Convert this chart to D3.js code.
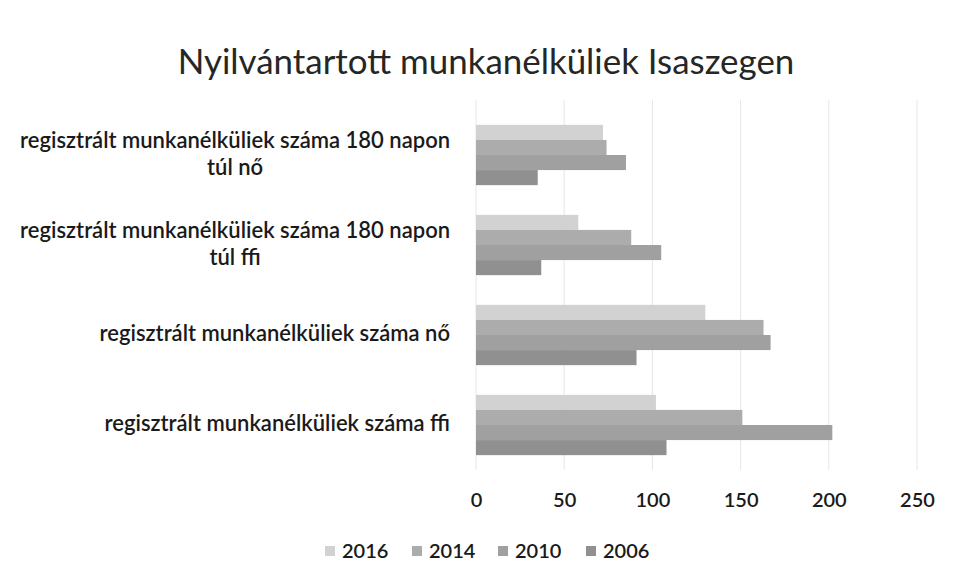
<!DOCTYPE html>
<html>
<head>
<meta charset="utf-8">
<script src="https://cdn.jsdelivr.net/npm/d3@7"></script>
<style>
  body { margin: 0; background: #fff; }
  svg text { font-family: Lato, "Open Sans", sans-serif; fill: #1a1a1a; }
</style>
</head>
<body>
<div id="chart"></div>
<script>
// categories top to bottom, each label split into its lines
var categories = [
    ["regisztrált munkanélküliek száma 180 napon", "túl nő"],
    ["regisztrált munkanélküliek száma 180 napon", "túl ffi"],
    ["regisztrált munkanélküliek száma nő"],
    ["regisztrált munkanélküliek száma ffi"]
];
var years = ["2016", "2014", "2010", "2006"];
var v2016 = [72, 58, 130, 102];
var v2014 = [74, 88, 163, 151];
var v2010 = [85, 105, 167, 202];
var v2006 = [35, 37, 91, 108];
var ticks = [0, 50, 100, 150, 200, 250];
var colors = ["#d2d2d2", "#acacac", "#a0a0a0", "#909090"];

var series = [v2016, v2014, v2010, v2006];

var width = 953, height = 585;
var plot = {left: 476, right: 917, top: 110, bottom: 470};

var svg = d3.select("#chart").append("svg")
    .attr("width", width)
    .attr("height", height);

svg.append("rect")
    .attr("x", 0).attr("y", 0)
    .attr("width", width).attr("height", height)
    .attr("fill", "#fff");

// fit a text element's font size so it spans the wanted width
function fitWidth(sel, want) {
    var w = sel.node().getComputedTextLength();
    var fs = parseFloat(sel.attr("font-size"));
    sel.attr("font-size", (fs * want / w) + "px");
}

var title = svg.append("text")
    .text("Nyilvántartott munkanélküliek Isaszegen")
    .attr("x", 486)
    .attr("y", 74)
    .attr("text-anchor", "middle")
    .attr("font-size", "30px")
    .style("fill", "#262626");
fitWidth(title, 617);

var xScale = d3.scaleLinear()
    .domain([0, 250])
    .range([plot.left, plot.right]);

var yScale = d3.scaleBand()
    .domain(d3.range(categories.length))
    .range([plot.top, plot.bottom])
    .paddingInner(0.33)
    .paddingOuter(0.165);

var inner = d3.scaleBand()
    .domain(d3.range(years.length))
    .range([0, yScale.bandwidth()]);

// grid lines
svg.append("g").selectAll("line")
    .data(ticks)
    .enter()
    .append("line")
    .attr("x1", function(d){ return xScale(d); })
    .attr("x2", function(d){ return xScale(d); })
    .attr("y1", plot.top - 10)
    .attr("y2", plot.bottom)
    .attr("stroke", "#e6e6e6")
    .attr("stroke-width", 1);

// bars
var groups = svg.append("g").selectAll("g")
    .data(categories)
    .enter()
    .append("g")
    .attr("transform", function(d, i){ return "translate(0," + yScale(i) + ")"; });

groups.selectAll("rect")
    .data(function(d, i){
        return series.map(function(s, j){ return {v: s[i], k: j}; });
    })
    .enter()
    .append("rect")
    .attr("x", xScale(0))
    .attr("y", function(d){ return inner(d.k); })
    .attr("width", function(d){ return xScale(d.v) - xScale(0); })
    .attr("height", inner.bandwidth())
    .attr("fill", function(d){ return colors[d.k]; });

// x axis (labels only)
var xAxis = d3.axisBottom(xScale)
    .tickValues(ticks)
    .tickSize(0)
    .tickPadding(0);

var gx = svg.append("g")
    .attr("transform", "translate(0," + 507 + ")")
    .call(xAxis);
gx.select(".domain").remove();
gx.selectAll("text")
    .attr("font-size", "20px")
    .attr("font-weight", 600)
    .attr("dy", 0)
    .attr("y", 0)
    .attr("font-family", "Lato, 'Open Sans', sans-serif")
    .style("fill", "#1a1a1a");

// category labels: lines centred within a block that ends at the plot
var labels = svg.append("g").selectAll("text")
    .data(categories)
    .enter()
    .append("text")
    .attr("font-size", "20px")
    .attr("font-weight", 600)
    .attr("text-anchor", "middle");

labels.each(function(lines, i){
    var t = d3.select(this);
    lines.forEach(function(line){ t.append("tspan").text(line); });
});
// same size for every label, chosen so the longest line spans 430px
var longest = 0;
labels.selectAll("tspan").each(function(){ longest = Math.max(longest, this.getComputedTextLength()); });
var labelSize = 20 * 430 / longest;
labels.attr("font-size", labelSize + "px");

labels.each(function(lines, i){
    var t = d3.select(this);
    var cy = yScale(i) + yScale.bandwidth() / 2;
    var lh = 27;
    var y0 = cy - (lines.length - 1) * lh / 2 + 6;
    var w = 0;
    t.selectAll("tspan").each(function(){ w = Math.max(w, this.getComputedTextLength()); });
    t.selectAll("tspan")
        .attr("x", 450 - w / 2)
        .attr("y", function(d, k){ return y0 + k * lh; });
});

// legend
var legend = svg.append("g")
    .attr("transform", "translate(0,551)");
var lx = [325, 412, 498, 586];
var items = legend.selectAll("g")
    .data(years)
    .enter()
    .append("g")
    .attr("transform", function(d, i){ return "translate(" + lx[i] + ",0)"; });
items.append("rect")
    .attr("x", 0)
    .attr("y", -5)
    .attr("width", 10)
    .attr("height", 10)
    .attr("fill", function(d, i){ return colors[i]; });
items.append("text")
    .text(function(d){ return d; })
    .attr("x", 17)
    .attr("y", 7)
    .attr("font-size", "20px")
    .attr("font-weight", 600);
</script>
</body>
</html>
